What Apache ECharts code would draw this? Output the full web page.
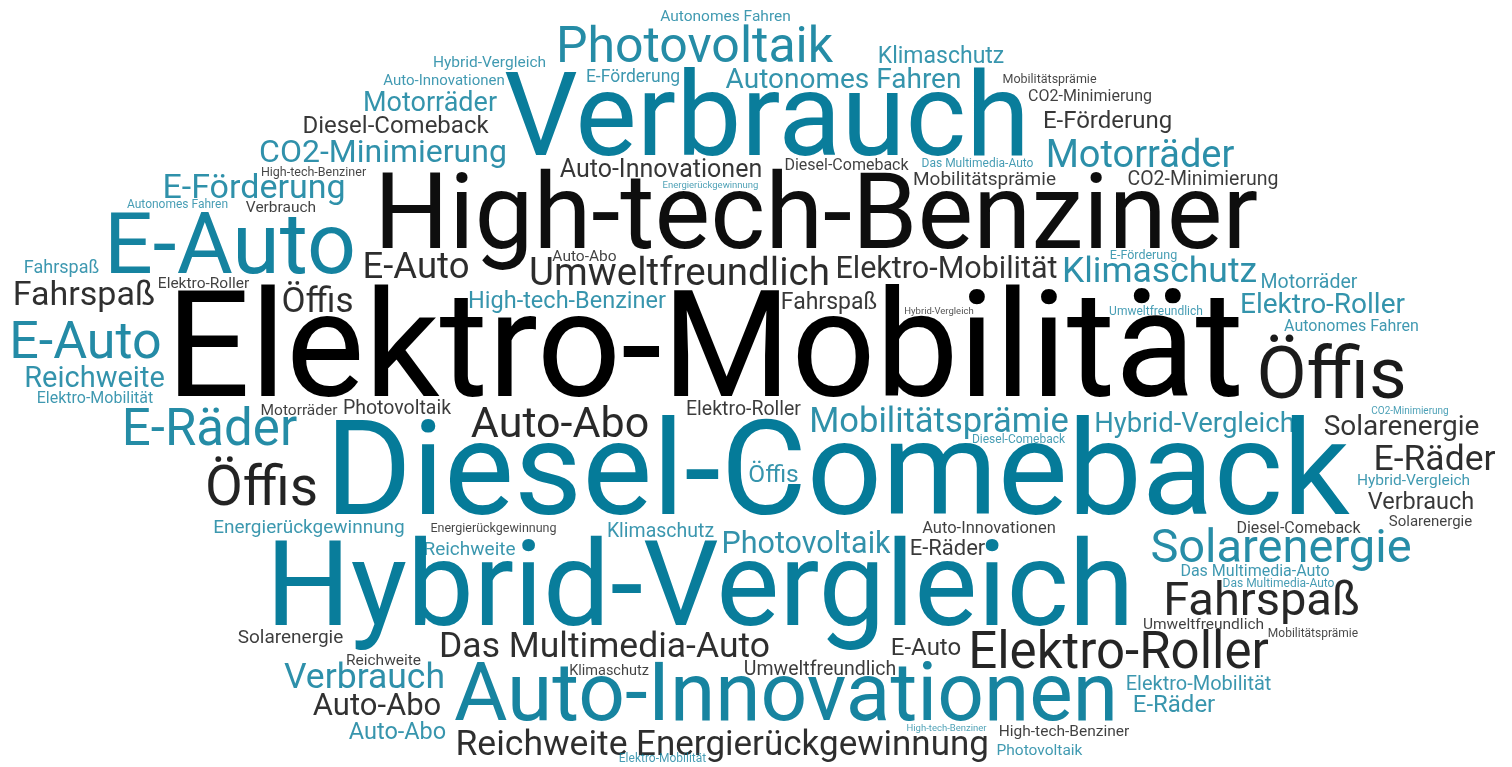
<!DOCTYPE html>
<html>
<head>
<meta charset="utf-8">
<script src="https://cdn.jsdelivr.net/npm/echarts@6/dist/echarts.min.js"></script>
<style>
html,body{margin:0;padding:0;background:#fff;}
#chart{width:1512px;height:767px;}
</style>
</head>
<body>
<div id="chart"></div>
<script>
// Word cloud: each word, its place in the cloud (x, baseline y), its weight and its tone
const words = [
"Autonomes Fahren","Photovoltaik","Hybrid-Vergleich","E-Förderung","Auto-Innovationen","Klimaschutz","Autonomes Fahren","Mobilitätsprämie","CO2-Minimierung","E-Förderung",
"Motorräder","CO2-Minimierung","Verbrauch","Motorräder","Diesel-Comeback","CO2-Minimierung","High-tech-Benziner","E-Förderung","Autonomes Fahren","Verbrauch",
"E-Auto","Auto-Innovationen","Energierückgewinnung","Diesel-Comeback","Das Multimedia-Auto","Mobilitätsprämie","High-tech-Benziner","E-Auto","Auto-Abo","Umweltfreundlich",
"Elektro-Mobilität","Klimaschutz","E-Förderung","Motorräder","Elektro-Roller","Umweltfreundlich","Autonomes Fahren","Öffis","Fahrspaß","Fahrspaß",
"Elektro-Roller","Öffis","E-Auto","Reichweite","Elektro-Mobilität","Elektro-Mobilität","High-tech-Benziner","Fahrspaß","Hybrid-Vergleich","Motorräder",
"Photovoltaik","E-Räder","Auto-Abo","Elektro-Roller","Mobilitätsprämie","Diesel-Comeback","Hybrid-Vergleich","CO2-Minimierung","Solarenergie","E-Räder",
"Hybrid-Vergleich","Verbrauch","Öffis","Diesel-Comeback","Öffis","Energierückgewinnung","Energierückgewinnung","Klimaschutz","Reichweite","Photovoltaik",
"Auto-Innovationen","E-Räder","Hybrid-Vergleich","Diesel-Comeback","Solarenergie","Solarenergie","Das Multimedia-Auto","Das Multimedia-Auto","Fahrspaß","Umweltfreundlich",
"Mobilitätsprämie","Solarenergie","Das Multimedia-Auto","Elektro-Roller","E-Auto","Reichweite","Verbrauch","Klimaschutz","Umweltfreundlich","Auto-Innovationen",
"Auto-Abo","Auto-Abo","Reichweite","Energierückgewinnung","Elektro-Mobilität","High-tech-Benziner","High-tech-Benziner","Photovoltaik","Elektro-Mobilität","E-Räder"
];
const xs = [
725.5,694.5,489.5,633,444,941,843.5,1049.5,1090,1107.5,
1140,1203,767,430,395.5,383,313.5,254,177.5,281,
230,661,710.5,846.5,977.5,984.5,816,416,584.5,679.5,
946.5,1159.5,1143.5,1309,1322.5,1156,1351.5,1331.5,61.5,84,
203.5,317.5,85.5,94.5,95,705,567,829,939,299,
397,209.5,560,743.5,939,1018.5,1194.5,1410,1401.5,1434.5,
1413.5,1421,261.5,837.5,773.5,309,493.5,660.5,469.5,806,
989,947.5,700,1298.5,1430.5,1281,1255,1278.5,1261.5,1203.5,
1313,290.5,604.5,1118.5,926,383.5,364.5,609,820,786,
377,397.5,541.5,812.5,662.5,946.5,1064,1039.5,1198.5,1174
];
const ys = [
21,62,67,82,85,63,88,83,101,128,
167,185,155,111,133,162,176,198,208,212,
273,177,188,170,167,185,248,278,261,285,
278,282,259,288,313,315,331,398,273,305,
288,312,358,387,403,396,308,309,314,415,
414,445,437,415,432,443,432,414,435,470,
485,509,505,514,482,533,532,537,555,553,
533,555,625,533,526,562,576,587,615,629,
637,643,657,668,655,665,688,675,675,720,
715,739,755,755,762,731,736,755,690,712
];
const weights = [
15.5,50,15.5,17.5,15,23,28,12.5,16,24,
38,19.5,116,27,24,32,12.5,34,12,15.5,
86,25,9.5,16,12,19,105,36.5,15.5,38.5,
30.5,35.5,12.5,19.5,28,12,16,73,18,34,
15.5,35,52,29,16,148,23.5,23,9.5,15.5,
19.5,51,43,19.5,34.5,12,27.5,10,28,35.5,
15.5,23.5,55,132,24.5,19,12.5,19.5,19,30.5,
16.5,22,119,16,15,47,16,12,47,15.5,
12,19,35.5,51,24,15.5,35.5,14.5,19.5,82,
31,23.5,35.5,35,12,9.5,15.5,15.5,20,24
];
// 0 = teal, 1 = dark
const tones = [
0,0,0,0,0,0,0,1,1,1,
0,1,0,0,1,0,1,0,0,1,
0,1,0,1,0,1,1,1,1,1,
1,0,0,0,0,0,0,1,0,1,
1,1,0,0,0,1,0,1,1,1,
1,0,1,1,0,0,0,0,1,1,
0,1,1,0,0,0,1,0,0,0,
1,1,0,1,1,0,0,0,1,1,
1,1,1,1,1,1,0,1,1,0,
1,0,1,1,0,0,1,0,0,0
];

const toneRGB = [[0,120,151],[0,0,0]];
function colorFor(w, tone) {
  const a = Math.min(1, 0.68 + 0.32 * Math.sqrt(Math.max(0, (w - 9) / 140)));
  const c = toneRGB[tone];
  return 'rgba(' + c[0] + ',' + c[1] + ',' + c[2] + ',' + a.toFixed(3) + ')';
}

// Anchor each label on its baseline: the bottom of a half-height line box
const data = words.map(function (w, i) {
  const fs = weights[i];
  return {
    name: w,
    value: [xs[i], ys[i]],
    label: {
      fontSize: fs,
      lineHeight: 0.5 * fs,
      color: colorFor(fs, tones[i])
    }
  };
});

const chart = echarts.init(document.getElementById('chart'), null, {renderer: 'canvas'});
chart.setOption({
  animation: false,
  backgroundColor: '#ffffff',
  grid: {left: 0, right: 0, top: 0, bottom: 0},
  xAxis: {type: 'value', min: 0, max: 1512, show: false},
  yAxis: {type: 'value', min: 0, max: 767, inverse: true, show: false},
  series: [{
    type: 'scatter',
    symbol: 'rect',
    symbolSize: 2,
    clip: false,
    silent: true,
    itemStyle: {opacity: 1, color: 'rgba(0,0,0,0)'},
    data: data,
    label: {
      show: true,
      position: 'inside',
      align: 'center',
      verticalAlign: 'bottom',
      formatter: '{b}',
      fontFamily: 'Roboto',
      fontWeight: 'normal',
      padding: 0,
      textBorderWidth: 0
    },
    labelLayout: {hideOverlap: false}
  }]
});
</script>
</body>
</html>
